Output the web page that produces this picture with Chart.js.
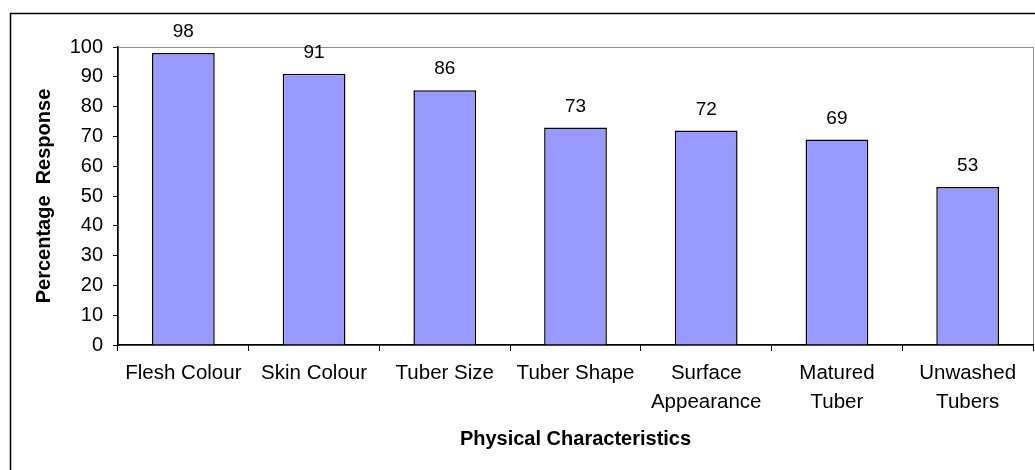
<!DOCTYPE html>
<html>
<head>
<meta charset="utf-8">
<script src="https://cdn.jsdelivr.net/npm/chart.js@4"></script>
<style>
  html, body { margin: 0; padding: 0; background: #fff; }
  #wrap { width: 1035px; height: 470px; }
</style>
</head>
<body>
<div id="wrap"><canvas id="bar-chart" width="1035" height="470"></canvas></div>
<script>
var categories = [
    "Flesh Colour",
    "Skin Colour",
    "Tuber Size",
    "Tuber Shape",
    ["Surface", "Appearance"],
    ["Matured", "Tuber"],
    ["Unwashed", "Tubers"]
];
var responseValues = [98, 91, 85.5, 73, 72, 69, 53];
var yTicks = [0, 10, 20, 30, 40, 50, 60, 70, 80, 90, 100];

(function () {
    "use strict";
    var font = "'Liberation Sans', Arial, sans-serif";

    // outer frame + grey plot-area frame
    var framePlugin = {
        id: "frame",
        beforeDraw: function (chart) {
            var ctx = chart.ctx;
            var area = chart.chartArea;
            ctx.save();
            ctx.fillStyle = "#fff";
            ctx.fillRect(0, 0, chart.width, chart.height);
            ctx.strokeStyle = "#000";
            ctx.lineWidth = 1.5;
            ctx.beginPath();
            ctx.moveTo(10.5, chart.height + 2);
            ctx.lineTo(10.5, 13.5);
            ctx.lineTo(chart.width + 2, 13.5);
            ctx.stroke();
            ctx.strokeStyle = "#8c8c8c";
            ctx.lineWidth = 1;
            ctx.strokeRect(area.left + 0.5, area.top + 0.5, area.right - area.left, area.bottom - area.top);
            ctx.restore();
        }
    };

    // value labels above bars
    var valueLabels = {
        id: "valueLabels",
        afterDatasetsDraw: function (chart) {
            var ctx = chart.ctx;
            var meta = chart.getDatasetMeta(0);
            ctx.save();
            ctx.fillStyle = "#000";
            ctx.font = "19px " + font;
            ctx.textAlign = "center";
            ctx.textBaseline = "middle";
            meta.data.forEach(function (bar, i) {
                ctx.fillText(Math.round(responseValues[i]), bar.x, bar.y - 21);
            });
            ctx.restore();
        }
    };

    var ctx = document.getElementById("bar-chart").getContext("2d");
    new Chart(ctx, {
        type: "bar",
        data: {
            labels: categories,
            datasets: [{
                data: responseValues,
                backgroundColor: "#9999ff",
                borderColor: "#000",
                borderWidth: 1.5,
                barPercentage: 0.48,
                categoryPercentage: 1
            }]
        },
        options: {
            responsive: false,
            animation: false,
            layout: { padding: { left: 0, top: 47, right: 2, bottom: 0 } },
            plugins: {
                legend: { display: false },
                tooltip: { enabled: false }
            },
            scales: {
                x: {
                    afterFit: function (scale) { scale.height = 125; },
                    grid: { drawOnChartArea: false, tickLength: 6, color: "#000", offset: true },
                    border: { color: "#000", width: 1.5 },
                    ticks: {
                        color: "#000",
                        maxRotation: 0,
                        autoSkip: false,
                        padding: 8,
                        font: { family: font, size: 20.5, lineHeight: 1.4 }
                    },
                    title: {
                        display: true,
                        text: "Physical Characteristics",
                        color: "#000",
                        padding: { top: 0, bottom: 19 },
                        font: { family: font, size: 20, weight: "bold" }
                    }
                },
                y: {
                    min: 0,
                    max: 100,
                    afterFit: function (scale) { scale.width = 118; },
                    afterBuildTicks: function (scale) {
                        scale.ticks = yTicks.map(function (v) { return { value: v }; });
                    },
                    grid: { drawOnChartArea: false, tickLength: 5, color: "#000" },
                    border: { color: "#000", width: 1.5 },
                    ticks: {
                        color: "#000",
                        padding: 10,
                        font: { family: font, size: 20 }
                    },
                    title: {
                        display: true,
                        text: "Percentage  Response",
                        color: "#000",
                        padding: { top: 32, bottom: 0 },
                        font: { family: font, size: 20, weight: "bold" }
                    }
                }
            }
        },
        plugins: [framePlugin, valueLabels]
    });
})();
</script>
</body>
</html>
